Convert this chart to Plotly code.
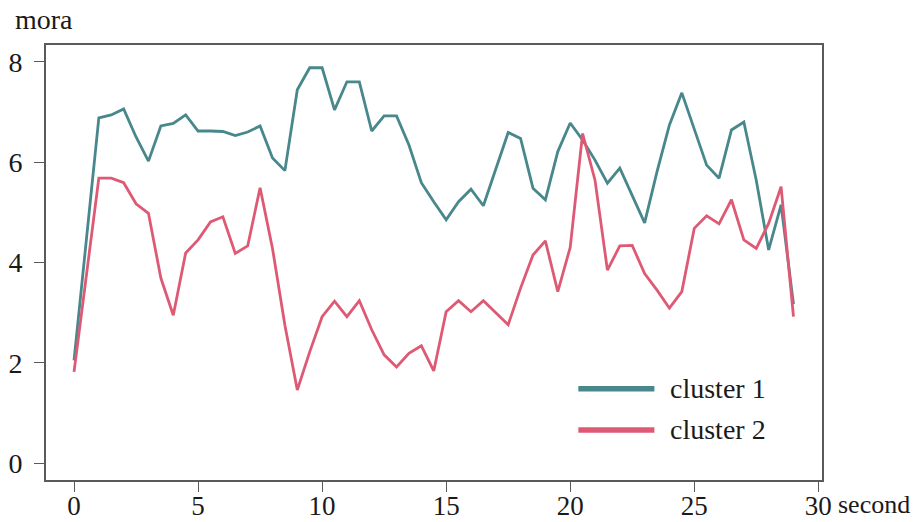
import plotly.graph_objects as go

# time stamps (seconds), half-second steps
seconds = [i / 2 for i in range(59)]

cluster1 = [2.05, 4.5, 6.88, 6.94, 7.06, 6.5, 6.02, 6.72, 6.77, 6.94,
            6.62, 6.62, 6.61, 6.53, 6.6, 6.72, 6.08, 5.83, 7.44, 7.88,
            7.88, 7.04, 7.6, 7.6, 6.62, 6.92, 6.92, 6.34, 5.59, 5.21,
            4.85, 5.21, 5.46, 5.13, 5.84, 6.59, 6.47, 5.48, 5.25, 6.21,
            6.78, 6.44, 6.04, 5.58, 5.88, 5.34, 4.79, 5.81, 6.74, 7.38,
            6.67, 5.94, 5.68, 6.64, 6.8, 5.64, 4.25, 5.15, 3.17]

cluster2 = [1.82, 3.8, 5.68, 5.68, 5.59, 5.17, 4.98, 3.69, 2.95, 4.19,
            4.45, 4.81, 4.91, 4.18, 4.33, 5.49, 4.28, 2.75, 1.46, 2.22,
            2.92, 3.23, 2.92, 3.24, 2.66, 2.16, 1.92, 2.19, 2.34, 1.84,
            3.02, 3.24, 3.02, 3.24, 3.0, 2.76, 3.49, 4.15, 4.43, 3.42,
            4.3, 6.57, 5.64, 3.85, 4.33, 4.34, 3.78, 3.45, 3.09, 3.42,
            4.68, 4.93, 4.77, 5.25, 4.45, 4.28, 4.78, 5.51, 2.92]

series_names = ["cluster 1", "cluster 2"]
series_colors = ["#48878b", "#de5a74"]

x_ticks = [0, 5, 10, 15, 20, 25, 30]
y_ticks = [0, 2, 4, 6, 8]

FONT = "Liberation Serif"
FSIZE = 28
XSIZE = 27
INK = "#1a1a1a"
FRAME = "#5a5a5a"

fig = go.Figure()
for name, ys, col in zip(series_names, [cluster1, cluster2], series_colors):
    fig.add_trace(go.Scatter(x=seconds, y=ys, mode="lines", name=name,
                             line=dict(color=col, width=2.8),
                             showlegend=False))

# hand-drawn legend in the lower right of the panel
legend_y = [0.21, 0.115]
for name, col, ly in zip(series_names, series_colors, legend_y):
    fig.add_shape(type="line", xref="paper", yref="paper",
                  x0=0.686, x1=0.784, y0=ly, y1=ly,
                  line=dict(color=col, width=5.5))
    fig.add_annotation(text=name, xref="paper", yref="paper",
                       x=0.801, y=ly, xanchor="left", yanchor="middle",
                       showarrow=False, font=dict(family=FONT, size=FSIZE, color=INK))

# axis titles placed at the ends of the axes
fig.add_annotation(text="mora", xref="paper", yref="paper",
                   x=-0.043, y=1.058, xanchor="left", yanchor="middle",
                   showarrow=False, font=dict(family=FONT, size=FSIZE, color=INK))
fig.add_annotation(text="second", xref="paper", yref="paper",
                   x=1.018, y=-0.056, xanchor="left", yanchor="middle",
                   showarrow=False, font=dict(family=FONT, size=26, color=INK))

axis_common = dict(showgrid=False, zeroline=False, showline=True, mirror=True,
                   linecolor=FRAME, linewidth=1.6, ticks="outside", ticklen=10,
                   tickwidth=1.4, tickcolor=FRAME, automargin=False)

fig.update_xaxes(range=[-1.13, 30.15], tickvals=x_ticks, ticklabelstandoff=-9,
                 tickfont=dict(family=FONT, size=XSIZE, color=INK),
                 **axis_common)
fig.update_yaxes(range=[-0.333, 8.333], tickvals=y_ticks, ticklabelstandoff=6,
                 tickfont=dict(family=FONT, size=FSIZE, color=INK),
                 **axis_common)

fig.update_layout(width=922, height=522,
                  margin=dict(l=46, r=100, t=45, b=42),
                  paper_bgcolor="white", plot_bgcolor="white",
                  showlegend=False)

fig.write_html("out.html")
